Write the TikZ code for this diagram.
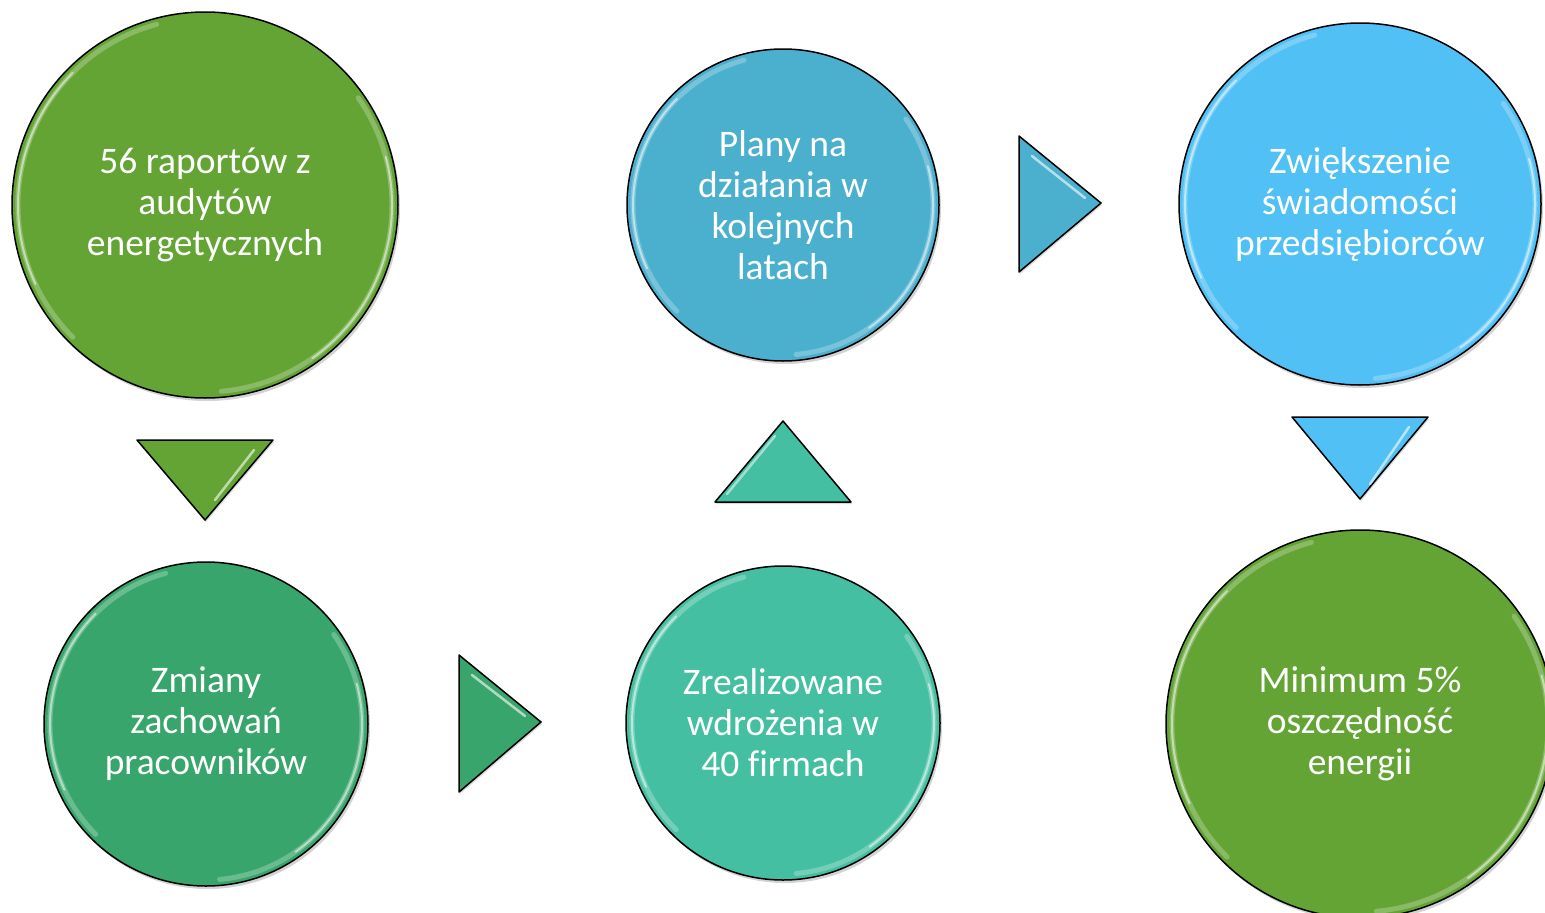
\documentclass[tikz,border=0pt]{standalone}
\usepackage{fontspec}
\setmainfont[Ligatures=NoCommon]{Carlito}
\usetikzlibrary{shadows}
\definecolor{grass}{RGB}{99,164,52}
\definecolor{jade}{RGB}{56,166,108}
\definecolor{mint}{RGB}{69,191,161}
\definecolor{ocean}{RGB}{75,175,206}
\definecolor{sky}{RGB}{80,192,245}

\tikzset{
  bubble/.style={circle, draw=black, line width=1.5pt, text=white, align=center,
    inner sep=0pt, font=\fontsize{37.5}{41}\selectfont,
    drop shadow={shadow xshift=2pt, shadow yshift=-3pt, opacity=.35}},
  gloss/.style={white, line cap=round},
  wedge/.style={draw=black, line width=1.5pt, line join=round,
    drop shadow={shadow xshift=1pt, shadow yshift=-2pt, opacity=.3}}
}
% shine on the rim: node name, inner radius
\newcommand{\shine}[2]{%
  \draw[gloss, opacity=.25, line width=5pt] (#1.center) ++(105:#2) arc (105:225:#2);
  \draw[gloss, opacity=.5, line width=2pt] (#1.center) ++(135:#2) arc (135:205:#2);
  \draw[gloss, opacity=.25, line width=5pt] (#1.center) ++(-85:#2) arc (-85:35:#2);
  \draw[gloss, opacity=.5, line width=2pt] (#1.center) ++(-55:#2) arc (-55:15:#2);
}

\begin{document}
\begin{tikzpicture}[x=1pt,y=1pt]
    \useasboundingbox (0,0) rectangle (1545,-913);

    %% top row
    \node[bubble, fill=grass, minimum size=386pt] (audyty) at (205,-205)
        {56 raportów z\\audytów\\energetycznych};
    \node[bubble, fill=ocean, minimum size=312pt] (plany) at (783,-205)
        {Plany na\\działania w\\kolejnych\\latach};
    \node[bubble, fill=sky, minimum size=362pt] (swiadomosc) at (1360,-204)
        {Zwiększenie\\świadomości\\przedsiębiorców};

    %% bottom row
    \node[bubble, fill=jade, minimum size=324pt] (zmiany) at (206,-724)
        {Zmiany\\zachowań\\pracowników};
    \node[bubble, fill=mint, minimum size=314pt] (wdrozenia) at (783,-723)
        {Zrealizowane\\wdrożenia w\\40 firmach};
    \node[bubble, fill=grass, minimum size=388pt] (oszczednosc) at (1360,-724)
        {Minimum 5\%\\oszczędność\\energii};

    \shine{audyty}{187}
    \shine{plany}{150}
    \shine{swiadomosc}{175}
    \shine{zmiany}{156}
    \shine{wdrozenia}{151}
    \shine{oszczednosc}{188}

    %% the triangles between steps
    \filldraw[wedge, fill=grass] (137,-440) -- (273,-440) -- (205,-520) -- cycle;
    \filldraw[wedge, fill=jade] (459,-655) -- (541,-722) -- (459,-792) -- cycle;
    \filldraw[wedge, fill=mint] (715,-502) -- (851,-502) -- (783,-421) -- cycle;
    \filldraw[wedge, fill=ocean] (1019,-136) -- (1101,-203) -- (1019,-272) -- cycle;
    \filldraw[wedge, fill=sky] (1292,-417) -- (1428,-417) -- (1360,-499) -- cycle;

    \draw[gloss, opacity=.6, line width=2.5pt] (254,-450) -- (215,-500);
    \draw[gloss, opacity=.6, line width=2.5pt] (472,-675) -- (525,-716);
    \draw[gloss, opacity=.5, line width=2.5pt] (727,-494) -- (775,-436);
    \draw[gloss, opacity=.6, line width=2.5pt] (1032,-156) -- (1085,-198);
    \draw[gloss, opacity=.6, line width=2.5pt] (1409,-427) -- (1370,-484);

\end{tikzpicture}
\end{document}
